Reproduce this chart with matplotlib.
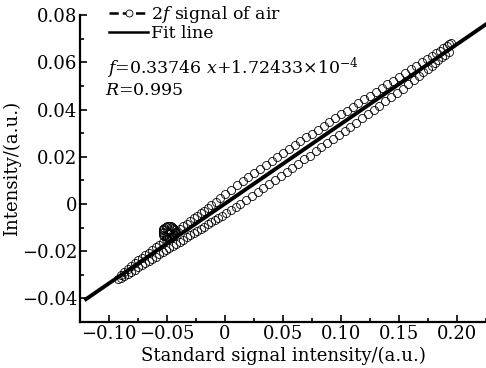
import matplotlib
matplotlib.use("Agg")
import matplotlib.pyplot as plt
from matplotlib.ticker import MultipleLocator, FuncFormatter

plt.rcParams["font.family"] = "DejaVu Serif"
plt.rcParams["mathtext.fontset"] = "dejavuserif"

# 2f signal of air, rising branch (upper)
up_x = [-0.090, -0.087, -0.084, -0.081, -0.078, -0.075, -0.072, -0.069, -0.066, -0.063,
        -0.060, -0.057, -0.054, -0.051, -0.048, -0.045, -0.042, -0.039, -0.036, -0.033,
        -0.030, -0.027, -0.024, -0.021, -0.018, -0.015, -0.012, -0.008, -0.004, 0.000,
        0.005, 0.010, 0.015, 0.020, 0.025, 0.030, 0.035, 0.040, 0.045, 0.050,
        0.055, 0.060, 0.065, 0.070, 0.075, 0.080, 0.085, 0.090, 0.095, 0.100,
        0.105, 0.110, 0.115, 0.120, 0.125, 0.130, 0.135, 0.140, 0.145, 0.150,
        0.155, 0.160, 0.165, 0.170, 0.174, 0.178, 0.182, 0.185, 0.188, 0.191,
        0.193, 0.195]
up_y = [-0.0302, -0.0289, -0.0276, -0.0263, -0.0251, -0.0239, -0.0228, -0.0217, -0.0206, -0.0195,
        -0.0184, -0.0172, -0.0161, -0.0150, -0.0139, -0.0128, -0.0117, -0.0106, -0.0095, -0.0083,
        -0.0072, -0.0061, -0.0050, -0.0039, -0.0028, -0.0017, -0.0006, 0.0010, 0.0025, 0.0041,
        0.0060, 0.0079, 0.0097, 0.0115, 0.0131, 0.0149, 0.0166, 0.0183, 0.0200, 0.0216,
        0.0233, 0.0250, 0.0265, 0.0282, 0.0298, 0.0315, 0.0331, 0.0347, 0.0363, 0.0380,
        0.0395, 0.0411, 0.0427, 0.0443, 0.0459, 0.0475, 0.0491, 0.0507, 0.0522, 0.0538,
        0.0554, 0.0570, 0.0586, 0.0602, 0.0614, 0.0628, 0.0640, 0.0650, 0.0661, 0.0670,
        0.0676, 0.0683]

# falling branch (lower)
down_x = [0.193, 0.190, 0.187, 0.184, 0.181, 0.178, 0.175, 0.171, 0.167, 0.163,
          0.158, 0.153, 0.148, 0.143, 0.138, 0.133, 0.128, 0.123, 0.118, 0.113,
          0.108, 0.103, 0.098, 0.093, 0.088, 0.083, 0.078, 0.073, 0.068, 0.063,
          0.058, 0.053, 0.048, 0.043, 0.038, 0.033, 0.028, 0.023, 0.018, 0.013,
          0.009, 0.005, 0.001, -0.003, -0.006, -0.009, -0.012, -0.015, -0.018, -0.021,
          -0.024, -0.027, -0.030, -0.033, -0.036, -0.039, -0.042, -0.045, -0.048, -0.051,
          -0.054, -0.057, -0.060, -0.063, -0.066, -0.069, -0.072, -0.075, -0.078, -0.081,
          -0.084, -0.087, -0.090, -0.092]
down_y = [0.0645, 0.0633, 0.0621, 0.0609, 0.0597, 0.0585, 0.0573, 0.0557, 0.0542, 0.0526,
          0.0507, 0.0488, 0.0470, 0.0453, 0.0435, 0.0417, 0.0399, 0.0381, 0.0363, 0.0345,
          0.0328, 0.0310, 0.0293, 0.0275, 0.0258, 0.0240, 0.0223, 0.0205, 0.0189, 0.0171,
          0.0154, 0.0136, 0.0119, 0.0101, 0.0084, 0.0066, 0.0050, 0.0033, 0.0016, 0.0000,
          -0.0013, -0.0025, -0.0038, -0.0050, -0.0059, -0.0068, -0.0078, -0.0087, -0.0096, -0.0105,
          -0.0114, -0.0123, -0.0132, -0.0141, -0.0151, -0.0160, -0.0169, -0.0178, -0.0187, -0.0196,
          -0.0205, -0.0214, -0.0224, -0.0233, -0.0242, -0.0251, -0.0260, -0.0269, -0.0278, -0.0287,
          -0.0297, -0.0305, -0.0314, -0.0318]

# small loop near x = -0.048
loop_x = [-0.0430, -0.0432, -0.0437, -0.0446, -0.0458, -0.0471, -0.0485, -0.0499, -0.0513, -0.0524,
          -0.0533, -0.0538, -0.0540, -0.0538, -0.0533, -0.0524, -0.0513, -0.0499, -0.0485, -0.0471,
          -0.0458, -0.0446, -0.0437, -0.0432]
loop_y = [-0.0118, -0.0112, -0.0106, -0.0100, -0.0096, -0.0094, -0.0093, -0.0094, -0.0096, -0.0100,
          -0.0106, -0.0112, -0.0118, -0.0124, -0.0130, -0.0136, -0.0140, -0.0142, -0.0143, -0.0142,
          -0.0140, -0.0136, -0.0130, -0.0124]

slope = 0.33746
intercept = 1.72433e-4
fit_x = [-0.12, 0.225]

sig_x = up_x + down_x + loop_x
sig_y = up_y + down_y + loop_y

fig = plt.figure(figsize=(4.86, 3.68), dpi=100)
ax = fig.add_axes([0.165, 0.125, 0.835, 0.834])

ax.plot(sig_x, sig_y, linestyle="none", marker="o", markersize=5.8,
        markerfacecolor="none", markeredgecolor="black", markeredgewidth=0.6)
ax.plot(fit_x, [slope * v + intercept for v in fit_x], color="black", linewidth=2.8)

# legend handles
ax.plot([], [], linestyle="--", marker="o", markersize=5, color="black",
        markerfacecolor="white", markeredgewidth=0.6, linewidth=1.8, label="2$f$ signal of air")
ax.plot([], [], color="black", linewidth=1.8, label="Fit line")
handles, labels = ax.get_legend_handles_labels()
ax.legend(handles, labels, loc="upper left", frameon=False, fontsize=12.5,
          handlelength=2.2, handletextpad=0.2, labelspacing=0.05,
          borderaxespad=0.0, bbox_to_anchor=(0.055, 1.06))

ax.text(0.065, 0.785, "$f$=0.33746 $x$+1.72433×10$^{-4}$", transform=ax.transAxes,
        fontsize=12.5, va="bottom")
ax.text(0.062, 0.725, "$R$=0.995", transform=ax.transAxes, fontsize=12.5, va="bottom")

ax.set_xlim(-0.125, 0.225)
ax.set_ylim(-0.05, 0.08)
ax.xaxis.set_major_locator(MultipleLocator(0.05))
ax.xaxis.set_minor_locator(MultipleLocator(0.025))
ax.yaxis.set_major_locator(MultipleLocator(0.02))
ax.yaxis.set_minor_locator(MultipleLocator(0.01))


def fmt_tick(v, pos):
    if abs(v) < 1e-9:
        return "0"
    return ("%.2f" % v).replace("-", "\u2212")


ax.xaxis.set_major_formatter(FuncFormatter(fmt_tick))
ax.yaxis.set_major_formatter(FuncFormatter(fmt_tick))

ax.tick_params(which="both", direction="in", width=1.2, labelsize=13, top=False, right=False)
ax.tick_params(which="major", length=5, pad=2)
ax.tick_params(which="minor", length=3)
ax.spines["top"].set_visible(False)
ax.spines["right"].set_visible(False)
ax.spines["left"].set_linewidth(1.6)
ax.spines["bottom"].set_linewidth(1.6)

ax.set_xlabel("Standard signal intensity/(a.u.)", fontsize=13, labelpad=3)
ax.set_ylabel("Intensity/(a.u.)", fontsize=13, labelpad=1)

fig.savefig("out.png", dpi=100)
